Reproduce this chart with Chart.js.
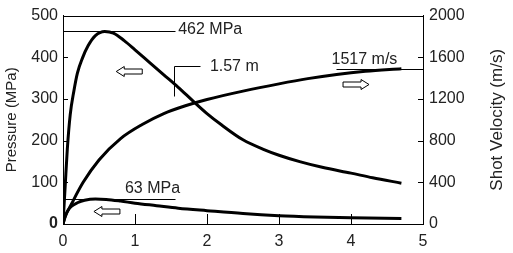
<!DOCTYPE html>
<html>
<head>
<meta charset="utf-8">
<script src="https://cdn.jsdelivr.net/npm/chart.js@4/dist/chart.umd.min.js"></script>
<style>
  html, body { margin: 0; padding: 0; background: #fff; }
  #wrap { width: 513px; height: 253px; }
</style>
</head>
<body>
<div id="wrap"><canvas id="chart"></canvas></div>
<script>
// travel distance (m)
const highX = [0, 0.03, 0.06, 0.1, 0.15, 0.2, 0.27, 0.35, 0.45, 0.58, 0.7, 0.85, 1.0, 1.2, 1.4, 1.6, 1.8, 2.0, 2.2, 2.5, 2.8, 3.0, 3.3, 3.6, 4.0, 4.3, 4.7];
// high pressure curve (MPa)
const highP = [0, 90, 180, 262, 318, 362, 398, 428, 452, 462, 458, 440, 418, 388, 358, 328, 296, 265, 238, 202, 178, 165, 149, 136, 122, 111, 98];

const velX = [0, 0.03, 0.12, 0.28, 0.5, 0.8, 1.1, 1.4, 1.7, 2.0, 2.5, 3.0, 3.4, 3.8, 4.2, 4.7];
// shot velocity (m/s)
const velV = [0, 70, 195, 400, 615, 820, 955, 1060, 1135, 1195, 1275, 1345, 1395, 1435, 1465, 1490];

const lowX = [0, 0.03, 0.07, 0.12, 0.2, 0.3, 0.45, 0.6, 0.8, 1.0, 1.3, 1.6, 2.0, 2.5, 3.0, 3.5, 4.0, 4.7];
// low pressure curve (MPa)
const lowP = [0, 18, 33, 43, 51, 57, 60, 59, 55, 50, 44, 38, 32, 25, 20, 17, 15, 13];

const xTicks = [0, 1, 2, 3, 4, 5];
const pressureTicks = [0, 100, 200, 300, 400, 500];
const velocityTicks = [0, 400, 800, 1200, 1600, 2000];

const FONT = "'Liberation Sans', Arial, sans-serif";
const INK = "#222";

const toPoints = (xs, ys) => xs.map((x, i) => ({ x: x, y: ys[i] }));

// callouts, in data units of the pressure axis
const callouts = [
  { text: "462 MPa", tx: 1.60, ty: 467, lines: [[[0, 462], [1.56, 462]]] },
  { text: "1.57 m", tx: 2.04, ty: 378, lines: [[[1.54, 307], [1.54, 380], [1.9, 380]]] },
  { text: "1517 m/s", tx: 3.73, ty: 394, lines: [[[3.79, 373], [5, 373]]] },
  { text: "63 MPa", tx: 0.86, ty: 86, lines: [[[0, 60.6], [1.56, 60.6]]] },
];
const arrows = [
  { x: 0.92, y: 368, dir: -1 },
  { x: 0.61, y: 31, dir: -1 },
  { x: 4.07, y: 335, dir: 1 },
];

const extras = {
  id: "extras",
  afterDraw(chart) {
    const ctx = chart.ctx;
    const xs = chart.scales.x, ys = chart.scales.y, y2 = chart.scales.y2;
    const area = chart.chartArea;
    ctx.save();
    ctx.strokeStyle = "#000";
    ctx.lineWidth = 1;

    // top frame line
    ctx.beginPath();
    ctx.moveTo(area.left, Math.round(area.top) + 0.5);
    ctx.lineTo(area.right, Math.round(area.top) + 0.5);
    ctx.stroke();

    // inward tick marks
    ctx.beginPath();
    xs.ticks.forEach(t => {
      const px = Math.round(xs.getPixelForValue(t.value)) + 0.5;
      ctx.moveTo(px, area.bottom);
      ctx.lineTo(px, area.bottom - 10);
    });
    ys.ticks.forEach(t => {
      const py = Math.round(ys.getPixelForValue(t.value)) + 0.5;
      ctx.moveTo(area.left, py);
      ctx.lineTo(area.left + 5, py);
    });
    y2.ticks.forEach(t => {
      const py = Math.round(y2.getPixelForValue(t.value)) + 0.5;
      ctx.moveTo(area.right, py);
      ctx.lineTo(area.right - 5, py);
    });
    ctx.stroke();

    // callout lines and labels
    ctx.font = "16px " + FONT;
    ctx.fillStyle = INK;
    ctx.textBaseline = "middle";
    ctx.textAlign = "left";
    callouts.forEach(c => {
      c.lines.forEach(path => {
        ctx.beginPath();
        path.forEach((p, i) => {
          const px = Math.round(xs.getPixelForValue(p[0])) + 0.5;
          const py = Math.round(ys.getPixelForValue(p[1])) + 0.5;
          if (i === 0) ctx.moveTo(px, py); else ctx.lineTo(px, py);
        });
        ctx.stroke();
      });
      ctx.fillText(c.text, xs.getPixelForValue(c.tx), ys.getPixelForValue(c.ty));
    });

    // hollow direction arrows
    arrows.forEach(a => {
      const cx = xs.getPixelForValue(a.x), cy = Math.round(ys.getPixelForValue(a.y)) + 0.5;
      const d = a.dir, L = 13, hh = 5, sh = 2.5;
      ctx.beginPath();
      ctx.moveTo(cx + d * L, cy);
      ctx.lineTo(cx + d * (L - 8), cy - hh);
      ctx.lineTo(cx + d * (L - 8), cy - sh);
      ctx.lineTo(cx - d * L, cy - sh);
      ctx.lineTo(cx - d * L, cy + sh);
      ctx.lineTo(cx + d * (L - 8), cy + sh);
      ctx.lineTo(cx + d * (L - 8), cy + hh);
      ctx.closePath();
      ctx.fillStyle = "#fff";
      ctx.fill();
      ctx.stroke();
    });

    // right axis title, reading bottom to top
    ctx.fillStyle = INK;
    ctx.font = "17px " + FONT;
    ctx.textAlign = "center";
    ctx.translate(497, (area.top + area.bottom) / 2);
    ctx.rotate(-Math.PI / 2);
    ctx.fillText("Shot Velocity (m/s)", 0, 0);
    ctx.restore();
  }
};

const lineStyle = {
  borderColor: "#000",
  borderWidth: 3,
  pointRadius: 0,
  fill: false,
  cubicInterpolationMode: "monotone",
};

new Chart(document.getElementById("chart"), {
  type: "line",
  data: {
    datasets: [
      { label: "Pressure", data: toPoints(highX, highP), yAxisID: "y", ...lineStyle },
      { label: "Shot Velocity", data: toPoints(velX, velV), yAxisID: "y2", ...lineStyle },
      { label: "Pressure (low)", data: toPoints(lowX, lowP), yAxisID: "y", ...lineStyle },
    ],
  },
  options: {
    responsive: true,
    maintainAspectRatio: false,
    animation: false,
    layout: { padding: { top: 12, left: 0, right: 0, bottom: 0 } },
    plugins: { legend: { display: false }, tooltip: { enabled: false } },
    scales: {
      x: {
        type: "linear",
        min: 0,
        max: 5,
        afterBuildTicks: s => { s.ticks = xTicks.map(v => ({ value: v })); },
        afterFit: s => { s.height = 29; },
        grid: { drawOnChartArea: false, drawTicks: false },
        border: { display: true, color: "#000", width: 1 },
        ticks: { color: INK, font: { size: 16, family: FONT }, padding: 8, maxRotation: 0, callback: v => String(v) },
      },
      y: {
        position: "left",
        min: 0,
        max: 500,
        afterBuildTicks: s => { s.ticks = pressureTicks.map(v => ({ value: v })); },
        afterFit: s => { s.width = 63; },
        grid: { drawOnChartArea: false, drawTicks: false },
        border: { display: true, color: "#000", width: 1 },
        ticks: {
          color: INK,
          padding: 5,
          callback: v => String(v),
          font: c => ({ size: 16, family: FONT, weight: c.tick && c.tick.value === 0 ? "bold" : "normal" }),
        },
        title: {
          display: true,
          text: "Pressure (MPa)",
          color: INK,
          font: { size: 15, family: FONT },
          padding: { top: 3, bottom: 0 },
        },
      },
      y2: {
        position: "right",
        min: 0,
        max: 2000,
        afterBuildTicks: s => { s.ticks = velocityTicks.map(v => ({ value: v })); },
        afterFit: s => { s.width = 90; },
        grid: { drawOnChartArea: false, drawTicks: false },
        border: { display: true, color: "#000", width: 1 },
        ticks: { color: INK, padding: 6, font: { size: 16, family: FONT }, callback: v => String(v) },
      },
    },
  },
  plugins: [extras],
});
</script>
</body>
</html>
